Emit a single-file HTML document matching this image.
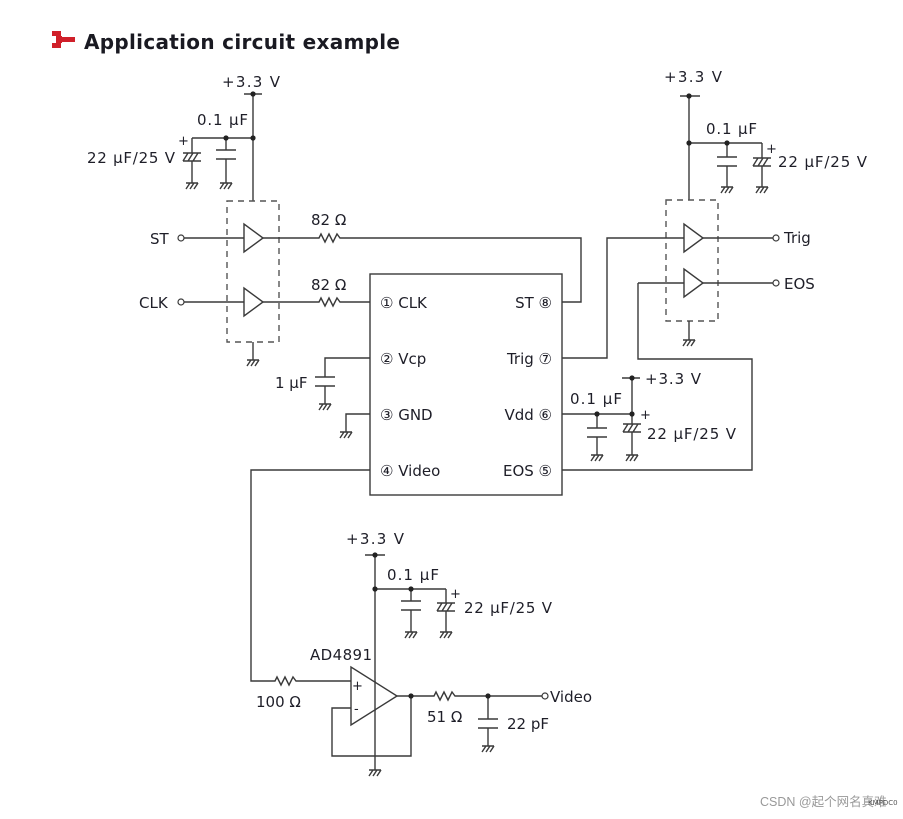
<!DOCTYPE html>
<html><head><meta charset="utf-8"><style>
html,body{margin:0;padding:0;background:#fff;}
svg{display:block}
text{font-family:"DejaVu Sans","Liberation Sans",sans-serif;font-size:15px;fill:#1e1e28;}
.w{stroke:#3a3a3a;stroke-width:1.4;fill:none}
</style></head><body>
<svg width="903" height="819" viewBox="0 0 903 819" xmlns="http://www.w3.org/2000/svg">
<defs>
<g id="gnd" class="w"><path d="M-6,0H6M-6,6L-2,0M-2,6L2,0M2,6L6,0"/></g>
<g id="cap" class="w"><path d="M-10,0H10M-10,9H10"/></g>
<g id="ecap" class="w"><path d="M-9,0H9M-9,8H9M-9,8L-4,0M-4,8L1,0M1,8L6,0"/></g>
<g id="res" class="w"><path d="M0,0H4L6,-4L10,4L14,-4L18,4L22,-4L25,0H30"/></g>
<g id="buf"><path d="M0,-14V14L19,0Z" fill="#fff" stroke="#3a3a3a" stroke-width="1.4"/></g>
<circle id="dot" r="2.6" fill="#222"/>
<circle id="term" r="3" fill="#fff" stroke="#3a3a3a" stroke-width="1.2"/>
</defs>

<!-- title -->
<rect x="52" y="31" width="9" height="5" fill="#d0202a"/>
<rect x="52" y="43" width="9" height="5" fill="#d0202a"/>
<rect x="62" y="37" width="13" height="5" fill="#d0202a"/>
<rect x="56" y="36" width="6" height="7" fill="#d0202a"/>
<text x="84" y="49" style="font-size:20px;font-weight:bold;fill:#1a1a22" textLength="316">Application circuit example</text>

<!-- top-left supply -->
<text x="222" y="87" textLength="58">+3.3 V</text>
<path class="w" d="M244,94H262M253,94V201M192,138H253M226,138V150M226,159V183M192,138V153M192,161V183"/>
<use href="#dot" x="253" y="94"/><use href="#dot" x="253" y="138"/><use href="#dot" x="226" y="138"/>
<use href="#cap" x="226" y="150"/><use href="#ecap" x="192" y="153"/>
<use href="#gnd" x="226" y="183"/><use href="#gnd" x="192" y="183"/>
<text x="197" y="125" textLength="51">0.1 µF</text>
<text x="178" y="145" style="font-size:13px">+</text>
<text x="87" y="163" textLength="88">22 µF/25 V</text>
<rect x="227" y="201" width="52" height="141" fill="none" stroke="#555" stroke-width="1.4" stroke-dasharray="6,5"/>
<path class="w" d="M253,342V360"/><use href="#gnd" x="253" y="360"/>

<!-- ST / CLK -->
<path class="w" d="M184,238H244M263,238H315M345,238H581V302H562"/>
<path class="w" d="M184,302H244M263,302H315M345,302H370"/>
<use href="#buf" x="244" y="238"/><use href="#buf" x="244" y="302"/>
<use href="#res" x="315" y="238"/><use href="#res" x="315" y="302"/>
<use href="#term" x="181" y="238"/><use href="#term" x="181" y="302"/>
<text x="150" y="244">ST</text><text x="139" y="308">CLK</text>
<text x="311" y="225">82 Ω</text><text x="311" y="290">82 Ω</text>

<!-- chip -->
<rect x="370" y="274" width="192" height="221" fill="#fff" stroke="#3a3a3a" stroke-width="1.4"/>
<text x="380" y="308">① CLK</text><text x="380" y="364">② Vcp</text>
<text x="380" y="420">③ GND</text><text x="380" y="476">④ Video</text>
<text x="552" y="308" text-anchor="end">ST ⑧</text><text x="552" y="364" text-anchor="end">Trig ⑦</text>
<text x="552" y="420" text-anchor="end">Vdd ⑥</text><text x="552" y="476" text-anchor="end">EOS ⑤</text>

<!-- Vcp / GND -->
<path class="w" d="M370,358H325V377M325,386V404M370,414H346V432"/>
<use href="#cap" x="325" y="377"/><use href="#gnd" x="325" y="404"/><use href="#gnd" x="346" y="432"/>
<text x="275" y="388">1 µF</text>

<!-- right side -->
<text x="664" y="82" textLength="58">+3.3 V</text>
<path class="w" d="M680,96H700M689,96V200M689,143H762M727,143V157M727,166V187M762,143V158M762,166V187"/>
<use href="#dot" x="689" y="96"/><use href="#dot" x="689" y="143"/><use href="#dot" x="727" y="143"/>
<use href="#cap" x="727" y="157"/><use href="#ecap" x="762" y="158"/>
<use href="#gnd" x="727" y="187"/><use href="#gnd" x="762" y="187"/>
<text x="706" y="134" textLength="51">0.1 µF</text>
<text x="766" y="153" style="font-size:13px">+</text>
<text x="778" y="167" textLength="89">22 µF/25 V</text>
<rect x="666" y="200" width="52" height="121" fill="none" stroke="#555" stroke-width="1.4" stroke-dasharray="6,5"/>
<path class="w" d="M689,321V340"/><use href="#gnd" x="689" y="340"/>
<path class="w" d="M562,358H607V238H684M703,238H773M638,283H684M703,283H773M638,283V359H752V470H562"/>
<use href="#buf" x="684" y="238"/><use href="#buf" x="684" y="283"/>
<use href="#term" x="776" y="238"/><use href="#term" x="776" y="283"/>
<text x="784" y="243">Trig</text><text x="784" y="289">EOS</text>

<!-- Vdd -->
<path class="w" d="M562,414H632M622,378H640M632,378V424M632,432V455M597,414V428M597,437V455"/>
<use href="#dot" x="632" y="378"/><use href="#dot" x="632" y="414"/><use href="#dot" x="597" y="414"/>
<use href="#cap" x="597" y="428"/><use href="#ecap" x="632" y="424"/>
<use href="#gnd" x="597" y="455"/><use href="#gnd" x="632" y="455"/>
<text x="645" y="384" textLength="56">+3.3 V</text>
<text x="570" y="404" textLength="52">0.1 µF</text>
<text x="640" y="419" style="font-size:13px">+</text>
<text x="647" y="439" textLength="89">22 µF/25 V</text>

<!-- bottom opamp -->
<path class="w" d="M370,470H251V681H271M301,681H351"/>
<use href="#res" x="271" y="681"/>
<text x="256" y="707">100 Ω</text>
<text x="346" y="544" textLength="58">+3.3 V</text>
<path class="w" d="M365,555H385M375,555V770M375,589H446M411,589V601M411,610V632M446,589V603M446,611V632"/>
<use href="#dot" x="375" y="555"/><use href="#dot" x="375" y="589"/><use href="#dot" x="411" y="589"/>
<use href="#cap" x="411" y="601"/><use href="#ecap" x="446" y="603"/>
<use href="#gnd" x="411" y="632"/><use href="#gnd" x="446" y="632"/><use href="#gnd" x="375" y="770"/>
<text x="387" y="580" textLength="52">0.1 µF</text>
<text x="450" y="598" style="font-size:13px">+</text>
<text x="464" y="613" textLength="88">22 µF/25 V</text>
<path d="M351,667V725L397,696Z" fill="#fff" stroke="#3a3a3a" stroke-width="1.4"/>
<path class="w" d="M375,681V711"/>
<text x="352" y="690" style="font-size:13px">+</text><text x="354" y="713" style="font-size:13px">-</text>
<text x="310" y="660" textLength="62">AD4891</text>
<path class="w" d="M351,708H332V756H411V696M397,696H430M460,696H542M488,696V719M488,728V746"/>
<use href="#dot" x="411" y="696"/><use href="#dot" x="488" y="696"/>
<use href="#res" x="430" y="696"/><use href="#cap" x="488" y="719"/><use href="#gnd" x="488" y="746"/>
<use href="#term" x="545" y="696"/>
<text x="550" y="702">Video</text>
<text x="427" y="722">51 Ω</text>
<text x="507" y="729">22 pF</text>

<text x="760" y="806" style="font-size:12.5px;fill:#999;font-family:'Liberation Sans','Noto Sans CJK SC',sans-serif">CSDN @起个网名真难</text>
<text x="868" y="805" style="font-size:7px;fill:#555">KMPDC0</text>
</svg>
</body></html>
